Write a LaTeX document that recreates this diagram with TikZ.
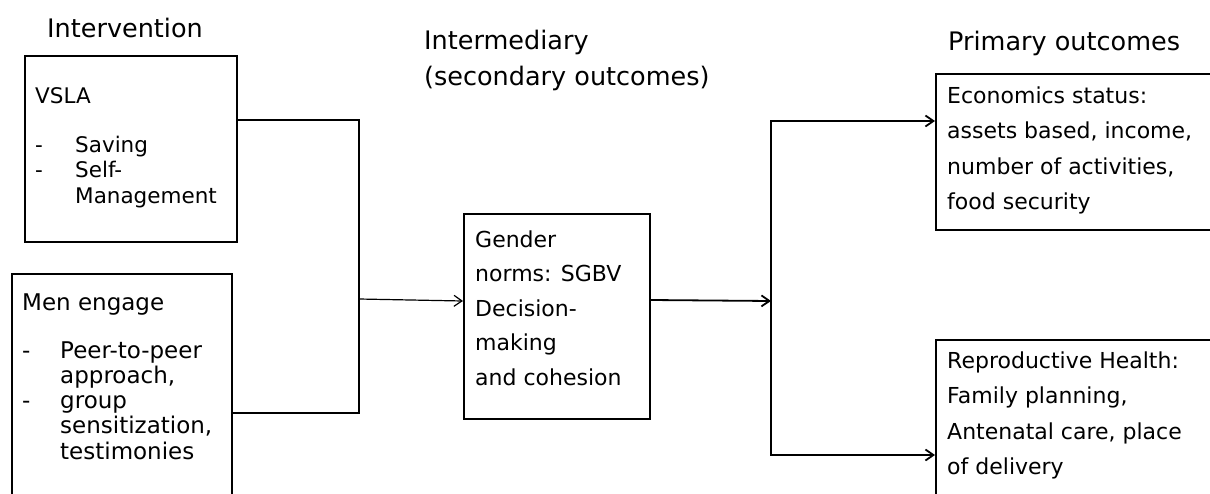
\documentclass[tikz,border=0pt]{standalone}
\usepackage{fontspec}
\setmainfont{DejaVu Sans}
\usetikzlibrary{arrows.meta}
\tikzset{
  box/.style={draw, line width=2pt, rectangle, inner sep=0pt, anchor=north west},
  txt/.style={anchor=base west, inner sep=0pt, font=\fontsize{21.5}{25.5}\selectfont},
  txtm/.style={anchor=base west, inner sep=0pt, font=\fontsize{23}{25.3}\selectfont},
  txtw/.style={anchor=base west, inner sep=0pt, font=\fontsize{22}{35.5}\selectfont},
  head/.style={anchor=base west, inner sep=0pt, font=\fontsize{25.5}{36}\selectfont},
  conn/.style={line width=1.8pt},
  arr/.style={line width=1.8pt, -{Straight Barb[length=8pt,width=11pt]}},
  thinarr/.style={line width=1.2pt, -{Straight Barb[length=8pt,width=11pt]}},
}
\begin{document}
\begin{tikzpicture}[x=1pt,y=-1pt]
\useasboundingbox (0,0) rectangle (1210,493);
\clip (0,0) rectangle (1210,493);
\fill[white] (0,0) rectangle (1210,493);

% boxes
\node[box, minimum width=212pt, minimum height=186pt] (vsla) at (24,55) {};
\node[box, minimum width=220pt, minimum height=240pt] (men) at (11,273) {};
\node[box, minimum width=186pt, minimum height=205pt] (gender) at (463,213) {};
\node[box, minimum width=290pt, minimum height=156pt] (econ) at (935,73) {};
\node[box, minimum width=290pt, minimum height=170pt] (repro) at (935,339) {};

% headings
\node[head] (hint) at (47,37) {Intervention};
\node[head] (hmid) at (424,49) {\begin{tabular}[t]{@{}l@{}}Intermediary\\(secondary outcomes)\end{tabular}};
\node[head] (hprim) at (948,50) {Primary outcomes};

% box texts
\node[txt] (vslah) at (35,103) {VSLA};
\node[txt] (vslal) at (35,152) {\begin{tabular}[t]{@{}p{40pt}@{}l@{}}-&Saving\\-&Self-\\&Management\end{tabular}};

\node[txtm] (menh) at (22,310) {Men engage};
\node[txtm] (menl) at (22,358) {\begin{tabular}[t]{@{}p{38pt}@{}l@{}}-&Peer-to-peer\\&approach,\\-&group\\&sensitization,\\&testimonies\end{tabular}};

\node[txtw, font=\fontsize{22}{34.5}\selectfont] (gtxt) at (475,247) {\begin{tabular}[t]{@{}l@{}}Gender\\norms: SGBV\\Decision-\\making\\and cohesion\end{tabular}};

\node[txtw] (etxt) at (947,103) {\begin{tabular}[t]{@{}l@{}}Economics status:\\assets based, income,\\number of activities,\\food security\end{tabular}};

\node[txtw] (rtxt) at (947,368) {\begin{tabular}[t]{@{}l@{}}Reproductive Health:\\Family planning,\\Antenatal care, place\\of delivery\end{tabular}};

% connectors
\coordinate (jl) at (359,299);
\coordinate (jr) at (771,301);
\draw[conn] ([yshift=29pt]vsla.east) -| (jl) |- ([yshift=-19pt]men.east);
\draw[thinarr] (jl) -- ([yshift=15.5pt]gender.west);
\draw[arr] ([yshift=16.5pt]gender.east) -- (jr);
\draw[arr] (jr) |- ([yshift=31pt]econ.west);
\draw[arr] (jr) |- ([yshift=-30pt]repro.west);
\end{tikzpicture}
\end{document}
